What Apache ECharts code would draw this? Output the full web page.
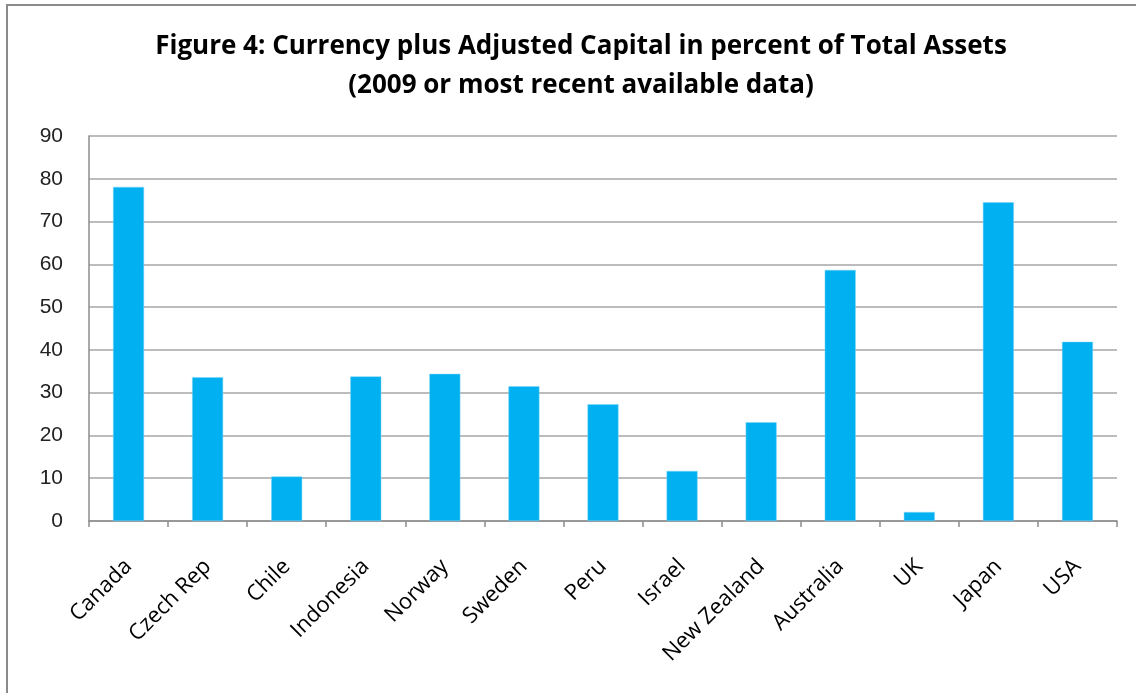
<!DOCTYPE html>
<html>
<head>
<meta charset="utf-8">
<script src="https://cdn.jsdelivr.net/npm/echarts@6/dist/echarts.min.js"></script>
<style>
  html, body { margin: 0; padding: 0; background: #fff; }
  #chart { width: 1136px; height: 693px; }
</style>
</head>
<body>
<div id="chart"></div>
<script>
// Countries along the x axis
const countries = ['Canada', 'Czech Rep', 'Chile', 'Indonesia', 'Norway', 'Sweden', 'Peru',
  'Israel', 'New Zealand', 'Australia', 'UK', 'Japan', 'USA'];
// Currency plus adjusted capital, % of total assets
const shareOfAssets = [78.1, 33.6, 10.4, 33.8, 34.4, 31.5, 27.3, 11.7, 23.1, 58.7, 2.1, 74.5, 41.9];
// Value axis range
const yMin = 0, yMax = 90, yStep = 10;

const chart = echarts.init(document.getElementById('chart'), null, { renderer: 'canvas' });

chart.setOption({
  animation: false,
  backgroundColor: '#ffffff',
  title: {
    text: 'Figure 4: Currency plus Adjusted Capital in percent of Total Assets\n(2009 or most recent available data)',
    left: 576,
    textAlign: 'center',
    top: 22,
    textStyle: {
      fontFamily: 'Open Sans',
      fontWeight: 'bold',
      fontSize: 26,
      lineHeight: 39,
      color: '#000'
    }
  },
  graphic: [{
    type: 'rect',
    shape: { x: 7, y: 5, width: 1300, height: 900 },
    style: { fill: 'none', stroke: '#8a8a8a', lineWidth: 2 },
    silent: true
  }],
  grid: { left: 89, right: 19, top: 136, bottom: 172, containLabel: false },
  xAxis: {
    type: 'category',
    data: countries,
    boundaryGap: true,
    axisLine: { show: true, lineStyle: { color: '#8c8c8c', width: 1.5 } },
    axisTick: { show: true, alignWithLabel: false, length: 6, lineStyle: { color: '#8c8c8c', width: 1.5 } },
    axisLabel: {
      interval: 0,
      rotate: 45,
      margin: 42,
      fontFamily: 'Open Sans',
      fontSize: 22,
      color: '#000'
    }
  },
  yAxis: {
    type: 'value',
    min: yMin,
    max: yMax,
    interval: yStep,
    axisLine: { show: true, lineStyle: { color: '#8c8c8c', width: 1.5 } },
    axisTick: { show: false },
    splitLine: { show: true, lineStyle: { color: '#a6a6a6', width: 1.5 } },
    axisLabel: {
      margin: 26,
      fontFamily: 'Liberation Sans',
      fontSize: 21,
      color: '#222'
    }
  },
  series: [{
    type: 'bar',
    data: shareOfAssets,
    barWidth: 31,
    itemStyle: { color: '#00b0f0', borderColor: '#7fd6f6', borderWidth: 0.5 }
  }]
});
</script>
</body>
</html>
